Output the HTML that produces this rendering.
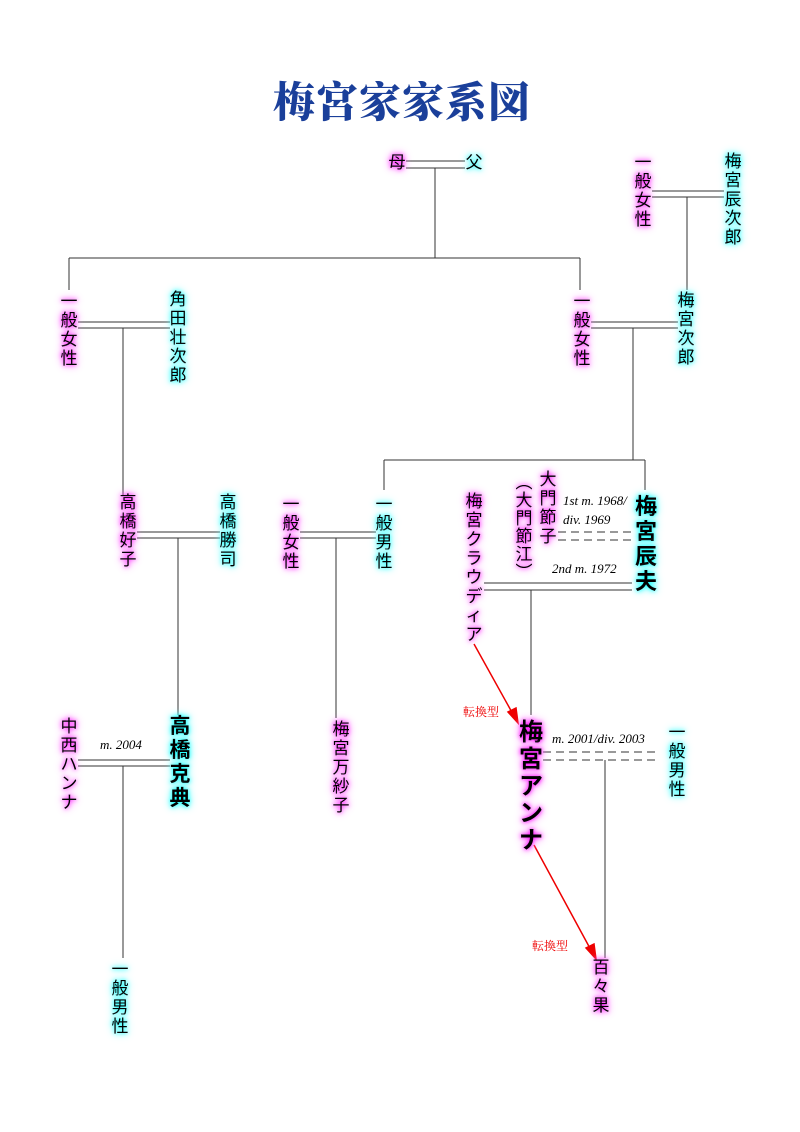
<!DOCTYPE html>
<html><head><meta charset="utf-8"><style>
body{margin:0;width:800px;height:1132px;background:#fff;position:relative;overflow:hidden;font-family:"Liberation Sans","Noto Sans CJK JP",sans-serif}
.t{position:absolute;text-align:center;color:#000;font-size:17px;line-height:19px;width:20px}
.f{text-shadow:0 0 4px #f0f,0 0 7px #f6f,0 0 10px #f8f}
.m{text-shadow:0 0 4px #0ff,0 0 7px #6ff,0 0 10px #8ff}
.b{font-weight:bold}
.i{position:absolute;font-family:"Liberation Serif",serif;font-style:italic;font-size:13px;color:#000;white-space:nowrap}
.r{position:absolute;font-family:"Liberation Serif","Noto Serif CJK SC",serif;font-size:12px;color:#e00;white-space:nowrap}
svg{position:absolute;left:0;top:0}
</style></head><body>
<div style="position:absolute;left:262px;top:74px;width:280px;text-align:center;font-family:'Noto Serif CJK SC',serif;font-weight:900;font-size:42px;color:#1a3f9a;letter-spacing:1px;line-height:52px">梅宮家家系図</div>
<svg width="800" height="1132">
<g stroke="#333" stroke-width="1" fill="none">
<path d="M406 161H465M406 168H465M435 168V258M69 258H580M69 258V290M580 258V290"/>
<path d="M652 191H724M652 197H724M687 197V290"/>
<path d="M78 322H170M78 328H170M123 328V495"/>
<path d="M591 322H678M591 328H678M633 328V460M384 460H645M384 460V490M645 460V490"/>
<path d="M137 532H220M137 538H220M178 538V715"/>
<path d="M300 532H376M300 538H376M336 538V718"/>
<path d="M484 583H632M484 590H632M531 590V715"/>
<path d="M78 760H170M78 766H170M123 766V958"/>
<path d="M605 760V958"/>
<path d="M558 532H632M558 540H632M543 752H660M543 760H660" stroke-dasharray="8,5"/>
</g>
<g stroke="#e00" stroke-width="1.5" fill="#e00">
<path d="M474 644L514 716"/><path d="M518 723L508 712L516 708Z"/>
<path d="M534 845L592 952"/><path d="M596 959L586 948L594 944Z"/>
</g>
</svg>
<div class="t f" style="left:387px;top:153px">母</div>
<div class="t m" style="left:464px;top:153px">父</div>
<div class="t f" style="left:633px;top:153px">一<br>般<br>女<br>性</div>
<div class="t m" style="left:723px;top:152px">梅<br>宮<br>辰<br>次<br>郎</div>
<div class="t f" style="left:59px;top:292px">一<br>般<br>女<br>性</div>
<div class="t m" style="left:168px;top:290px">角<br>田<br>壮<br>次<br>郎</div>
<div class="t f" style="left:572px;top:292px">一<br>般<br>女<br>性</div>
<div class="t m" style="left:676px;top:291px">梅<br>宮<br>次<br>郎</div>
<div class="t f" style="left:118px;top:493px">高<br>橋<br>好<br>子</div>
<div class="t m" style="left:218px;top:493px">高<br>橋<br>勝<br>司</div>
<div class="t f" style="left:281px;top:495px">一<br>般<br>女<br>性</div>
<div class="t m" style="left:374px;top:495px">一<br>般<br>男<br>性</div>
<div class="t f" style="left:464px;top:492px">梅<br>宮<br>ク<br>ラ<br>ウ<br>デ<br>ィ<br>ア</div>
<div class="t f" style="left:514px;top:474px;line-height:18px">︵<br>大<br>門<br>節<br>江<br>︶</div>
<div class="t f" style="left:538px;top:470px">大<br>門<br>節<br>子</div>
<div class="t m b" style="left:634px;top:494px;font-size:22px;line-height:25px;width:24px">梅<br>宮<br>辰<br>夫</div>
<div class="i" style="left:563px;top:493px">1st m. 1968/</div>
<div class="i" style="left:563px;top:512px">div. 1969</div>
<div class="i" style="left:552px;top:561px">2nd m. 1972</div>
<div class="r" style="left:463px;top:703px">転換型</div>
<div class="r" style="left:532px;top:937px">転換型</div>
<div class="t f b" style="left:518px;top:719px;font-size:24px;line-height:27px;width:26px">梅<br>宮<br>ア<br>ン<br>ナ</div>
<div class="i" style="left:552px;top:731px">m. 2001/div. 2003</div>
<div class="t m" style="left:667px;top:723px">一<br>般<br>男<br>性</div>
<div class="t f" style="left:591px;top:958px">百<br>々<br>果</div>
<div class="t f" style="left:59px;top:717px">中<br>西<br>ハ<br>ン<br>ナ</div>
<div class="t m b" style="left:168px;top:715px;font-size:21px;line-height:24px;width:24px">高<br>橋<br>克<br>典</div>
<div class="i" style="left:100px;top:737px">m. 2004</div>
<div class="t m" style="left:110px;top:960px">一<br>般<br>男<br>性</div>
<div class="t f" style="left:331px;top:720px">梅<br>宮<br>万<br>紗<br>子</div>
</body></html>
